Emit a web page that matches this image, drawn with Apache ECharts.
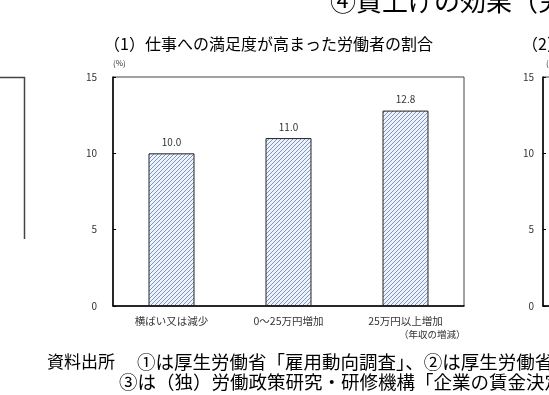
<!DOCTYPE html>
<html>
<head>
<meta charset="utf-8">
<script src="https://cdn.jsdelivr.net/npm/echarts@6/dist/echarts.min.js"></script>
<style>
html,body{margin:0;padding:0;background:#fff;}
#main{width:549px;height:395px;}
</style>
</head>
<body>
<div id="main"></div>
<script>
// ---- data ----
const categories = ['横ばい又は減少', '0～25万円増加', '25万円以上増加'];
const values = [10.0, 11.0, 12.8];
const yMin = 0, yMax = 15, yInterval = 5;
const titleText = '④賃上げの効果（労';
const subtitle1 = '（1）仕事への満足度が高まった労働者の割合';
const subtitle2 = '（2）';
const unitText = '(%)';
const xNote = '（年収の増減）';
const sourceHead = '資料出所';
const sourceLine1 = '①は厚生労働省「雇用動向調査」、②は厚生労働省';
const sourceLine2 = '③は（独）労働政策研究・研修機構「企業の賃金決定';

const FONT = '"Noto Sans CJK JP", "Noto Sans", sans-serif';

function makePattern() {
  const c = document.createElement('canvas');
  c.width = 4; c.height = 4;
  const g = c.getContext('2d');
  g.fillStyle = '#eef2fa';
  g.fillRect(0, 0, 4, 4);
  g.strokeStyle = '#7f95c4';
  g.lineWidth = 1;
  g.beginPath();
  g.moveTo(0, 4); g.lineTo(4, 0);
  g.moveTo(-1, 1); g.lineTo(1, -1);
  g.moveTo(3, 5); g.lineTo(5, 3);
  g.stroke();
  return c;
}

const chart = echarts.init(document.getElementById('main'), null, {renderer: 'canvas'});
const axisLabelStyle = {fontSize: 10, color: '#333', fontFamily: FONT};

chart.setOption({
  animation: false,
  textStyle: {fontFamily: FONT},
  grid: [
    {left: 113, top: 77, right: 85, bottom: 89, show: true, borderColor: '#444', borderWidth: 1, containLabel: false},
    {left: 543, top: 77, width: 300, bottom: 89, show: true, borderColor: '#444', borderWidth: 1, containLabel: false}
  ],
  xAxis: [
    {
      type: 'category', gridIndex: 0, data: categories,
      axisLine: {lineStyle: {color: '#000', width: 1.5}},
      axisTick: {inside: true, length: 3, lineStyle: {color: '#000'}},
      axisLabel: Object.assign({margin: 10, interval: 0}, axisLabelStyle, {fontSize: 10.5})
    },
    {
      type: 'category', gridIndex: 1, data: categories,
      axisLine: {lineStyle: {color: '#000', width: 1.5}},
      axisTick: {inside: true, length: 3, lineStyle: {color: '#000'}},
      axisLabel: {show: false}
    }
  ],
  yAxis: [
    {
      type: 'value', gridIndex: 0, min: yMin, max: yMax, interval: yInterval,
      splitLine: {show: false},
      axisLine: {show: true, lineStyle: {color: '#000', width: 1.5}},
      axisTick: {show: true, inside: true, length: 3, lineStyle: {color: '#000'}},
      axisLabel: Object.assign({margin: 16}, axisLabelStyle)
    },
    {
      type: 'value', gridIndex: 1, min: yMin, max: yMax, interval: yInterval,
      splitLine: {show: false},
      axisLine: {show: true, lineStyle: {color: '#000', width: 1.5}},
      axisTick: {show: true, inside: true, length: 3, lineStyle: {color: '#000'}},
      axisLabel: Object.assign({margin: 9}, axisLabelStyle)
    }
  ],
  series: [{
    type: 'bar',
    xAxisIndex: 0, yAxisIndex: 0,
    data: values,
    barWidth: 46,
    itemStyle: {
      color: {image: makePattern(), repeat: 'repeat'},
      borderColor: '#222',
      borderWidth: 1
    },
    label: {
      show: true, position: 'top', distance: 6,
      fontSize: 10, color: '#333', fontFamily: FONT,
      formatter: p => p.value.toFixed(1)
    }
  }],
  graphic: [
    {type: 'text', left: 330, top: -12, style: {text: titleText, font: '26px ' + FONT, fill: '#000'}},
    {type: 'text', left: 104, top: 36, style: {text: subtitle1, font: '16px ' + FONT, fill: '#000'}},
    {type: 'text', left: 522, top: 36, style: {text: subtitle2, font: '16px ' + FONT, fill: '#000'}},
    {type: 'text', left: 113, top: 59, style: {text: unitText, font: '8px ' + FONT, fill: '#333'}},
    {type: 'text', left: 546, top: 59, style: {text: unitText, font: '8px ' + FONT, fill: '#333'}},
    {type: 'text', left: 399, top: 330, style: {text: xNote, font: '9.5px ' + FONT, fill: '#333'}},
    {type: 'text', left: 47, top: 353, style: {text: sourceHead, font: '17px ' + FONT, fill: '#000'}},
    {type: 'text', left: 137, top: 353, style: {text: sourceLine1, font: '18.5px ' + FONT, fill: '#000'}},
    {type: 'text', left: 119, top: 373, style: {text: sourceLine2, font: '18.5px ' + FONT, fill: '#000'}},
    {type: 'polyline', shape: {points: [[0, 77.5], [24.5, 77.5], [24.5, 239]]}, style: {stroke: '#444', lineWidth: 1.5, fill: null}}
  ]
});
</script>
</body>
</html>
